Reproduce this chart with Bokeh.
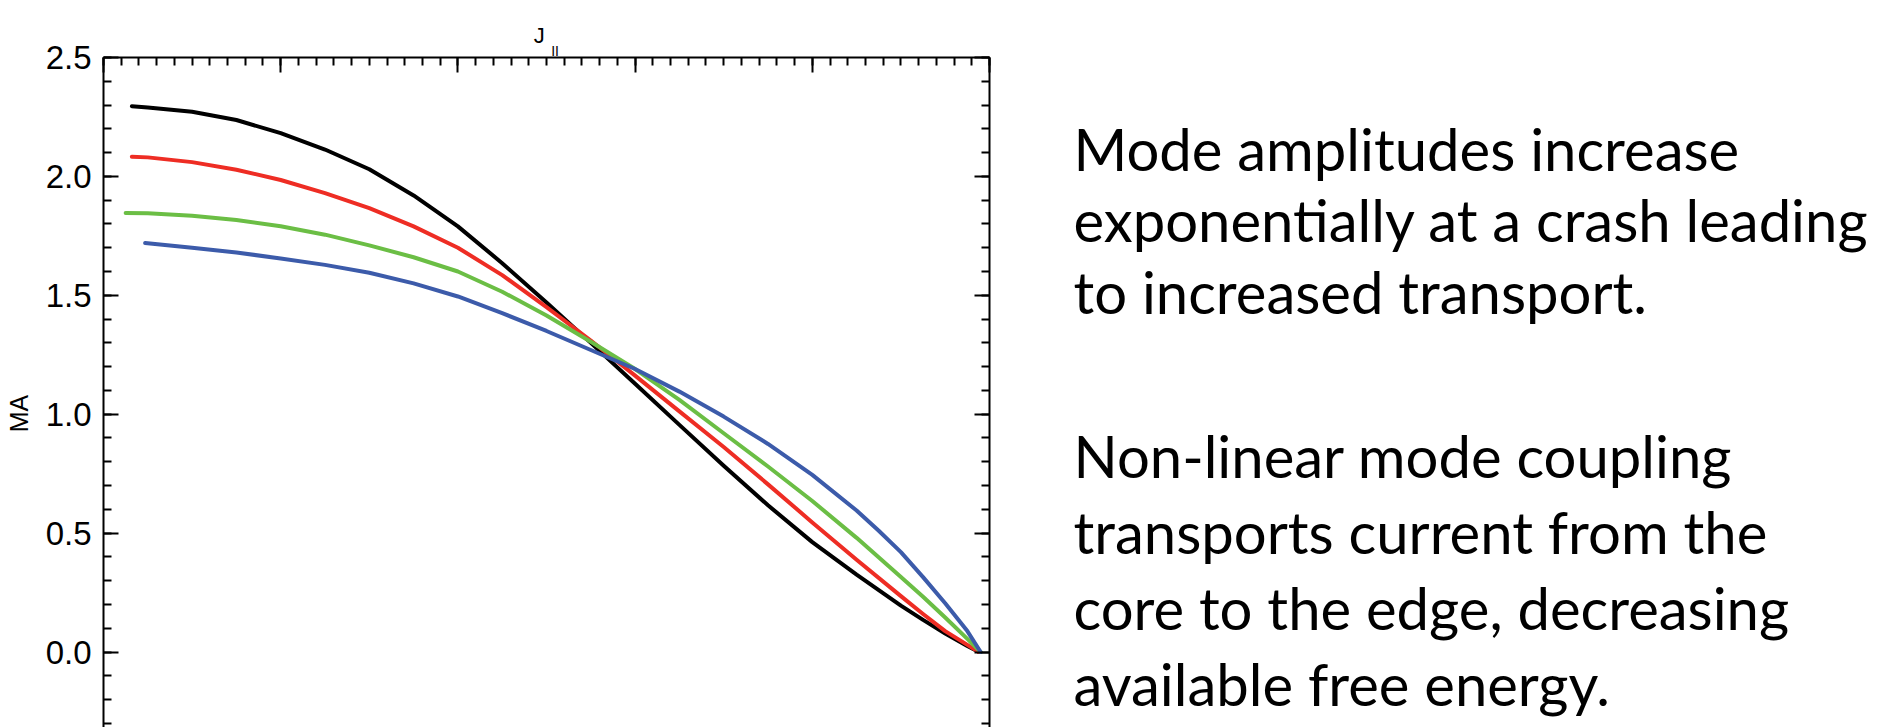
import numpy as np
from bokeh.plotting import figure
from bokeh.layouts import row
from bokeh.models import Range1d, LinearAxis, FixedTicker, NumeralTickFormatter, Title
from bokeh.embed import file_html
from bokeh.resources import INLINE
from bokeh.core.properties import value

# ---------------- data ----------------
x_black = [0.032, 0.05, 0.10, 0.15, 0.20, 0.25, 0.30, 0.35, 0.40, 0.45, 0.50, 0.55, 0.60,
           0.65, 0.70, 0.75, 0.80, 0.85, 0.90, 0.925, 0.95, 0.975, 0.988]
y_black = [2.295, 2.29, 2.272, 2.237, 2.182, 2.113, 2.03, 1.92, 1.79, 1.635, 1.47, 1.30, 1.128,
           0.955, 0.783, 0.617, 0.462, 0.325, 0.195, 0.135, 0.078, 0.025, 0.0]

x_red = [0.032, 0.05, 0.10, 0.15, 0.20, 0.25, 0.30, 0.35, 0.40, 0.45, 0.50, 0.55, 0.60,
         0.65, 0.70, 0.75, 0.80, 0.85, 0.90, 0.925, 0.95, 0.975, 0.988]
y_red = [2.083, 2.08, 2.06, 2.028, 1.985, 1.93, 1.867, 1.79, 1.70, 1.585, 1.45, 1.31, 1.162,
         1.012, 0.862, 0.705, 0.545, 0.388, 0.235, 0.16, 0.088, 0.03, 0.0]

x_green = [0.025, 0.05, 0.10, 0.15, 0.20, 0.25, 0.30, 0.35, 0.40, 0.45, 0.50, 0.55, 0.60,
           0.65, 0.70, 0.75, 0.80, 0.85, 0.90, 0.925, 0.95, 0.975, 0.99]
y_green = [1.846, 1.845, 1.835, 1.817, 1.79, 1.755, 1.71, 1.66, 1.60, 1.515, 1.415, 1.305, 1.19,
           1.06, 0.92, 0.78, 0.635, 0.48, 0.315, 0.232, 0.145, 0.055, 0.0]

x_blue = [0.047, 0.10, 0.15, 0.20, 0.25, 0.30, 0.35, 0.40, 0.45, 0.50, 0.55, 0.60,
          0.65, 0.70, 0.75, 0.80, 0.85, 0.875, 0.90, 0.925, 0.95, 0.975, 0.99]
y_blue = [1.720, 1.70, 1.68, 1.655, 1.628, 1.595, 1.55, 1.495, 1.425, 1.35, 1.27, 1.19,
          1.095, 0.99, 0.875, 0.745, 0.595, 0.51, 0.42, 0.315, 0.205, 0.088, 0.0]

y_major_ticks = [-0.5, 0.0, 0.5, 1.0, 1.5, 2.0, 2.5]
y_minor_ticks = [round(-0.5 + 0.1 * i, 2) for i in range(31)]
x_major_ticks = [0.0, 0.2, 0.4, 0.6, 0.8, 1.0]
x_minor_ticks = [round(0.02 * i, 2) for i in range(51)]

title_main = "J"
title_sub = "II"
y_label = "MA"
notes = [
    "Mode amplitudes increase",
    "exponentially at a crash leading",
    "to increased transport.",
    "Non-linear mode coupling",
    "transports current  from the",
    "core to the edge,  decreasing",
    "available free energy.",
]

# ---------------- layout (page pixels) ----------------
PAGE_W, PAGE_H = 1877, 727
MA_W = 40             # strip holding the y-axis label
MAIN_RIGHT = 1000     # right edge of the chart figure
FRAME_LEFT = 103      # page x of the plot frame
FRAME_TOP = 57
FRAME_W = 886
X0, X1 = 0.0, 1.0
Y_TOP = 2.5
PX_PER_Y = 237.8

main_w = MAIN_RIGHT - MA_W
b_left = FRAME_LEFT - MA_W
b_right = main_w - b_left - FRAME_W
frame_h = PAGE_H - FRAME_TOP
Y_BOT = Y_TOP - frame_h / PX_PER_Y


def blank(width, height, x0, x1, y0, y1):
    f = figure(width=width, height=height, x_range=Range1d(x0, x1), y_range=Range1d(y0, y1),
               title=None, x_axis_location=None, y_axis_location=None, min_border=0,
               output_backend="svg", toolbar_location=None)
    f.xgrid.visible = False
    f.ygrid.visible = False
    f.outline_line_color = None
    f.background_fill_color = "white"
    f.border_fill_color = "white"
    return f


# ---- main chart ----
p = figure(
    width=main_w, height=PAGE_H, title=None,
    x_range=Range1d(X0, X1), y_range=Range1d(Y_BOT, Y_TOP),
    x_axis_location=None, y_axis_location=None,
    min_border_left=b_left, min_border_top=FRAME_TOP,
    min_border_right=b_right, min_border_bottom=0,
    output_backend="svg", toolbar_location=None,
)
p.xgrid.visible = False
p.ygrid.visible = False
p.outline_line_color = None
p.background_fill_color = "white"
p.border_fill_color = "white"


def style_axis(ax, labels, standoff=0):
    ax.axis_line_width = 2
    ax.axis_line_color = "black"
    ax.major_tick_line_width = 2
    ax.minor_tick_line_width = 2
    ax.major_tick_line_color = "black"
    ax.minor_tick_line_color = "black"
    ax.major_tick_in = 15
    ax.major_tick_out = 0
    ax.minor_tick_in = 8
    ax.minor_tick_out = 0
    if labels:
        ax.major_label_text_font = "Liberation Sans"
        ax.major_label_text_font_size = "33px"
        ax.major_label_text_color = "black"
        ax.major_label_standoff = 12
    else:
        ax.major_label_text_font_size = "0px"
        ax.major_label_standoff = standoff


left = LinearAxis(ticker=FixedTicker(ticks=y_major_ticks, minor_ticks=y_minor_ticks),
                  formatter=NumeralTickFormatter(format="0.0"))
style_axis(left, True)
p.add_layout(left, "left")

right = LinearAxis(ticker=FixedTicker(ticks=y_major_ticks, minor_ticks=y_minor_ticks))
style_axis(right, False)
p.add_layout(right, "right")

top = LinearAxis(ticker=FixedTicker(ticks=x_major_ticks, minor_ticks=x_minor_ticks))
style_axis(top, False, standoff=3)
p.add_layout(top, "above")

# title "J" with subscript "II" (left-aligned titles, shifted by offset from the frame's left edge)
sub = Title(text=title_sub, align="left", offset=550.7 - FRAME_LEFT, standoff=-3.6,
            text_font="Liberation Sans", text_font_size="14px", text_font_style="normal",
            text_color="black")
p.add_layout(sub, "above")
main_title = Title(text=title_main, align="left", offset=533.3 - FRAME_LEFT, standoff=-8.6,
                   text_font="Liberation Sans", text_font_size="22px", text_font_style="normal",
                   text_color="black")
p.add_layout(main_title, "above")

for xs, ys, col in [(x_black, y_black, "#000000"),
                    (x_red, y_red, "#EE2D24"),
                    (x_green, y_green, "#6BBE45"),
                    (x_blue, y_blue, "#3C5BAA")]:
    p.line(xs, ys, line_width=4, line_color=col, line_join="round", line_cap="round")

# ---- side strips: their frames line up with the chart frame (page y from FRAME_TOP to PAGE_H)
m = blank(MA_W, PAGE_H, 0, MA_W, PAGE_H, FRAME_TOP)
m.text(x=[18], y=[413], text=[y_label], angle=np.pi / 2, text_font=value("Liberation Sans"),
       text_font_size=value("25px"), text_align="center", text_baseline="middle",
       text_color="black")

n = blank(PAGE_W - MAIN_RIGHT, PAGE_H, MAIN_RIGHT, PAGE_W, PAGE_H, FRAME_TOP)
baselines = [148, 219, 291, 455, 531, 607, 683]
n.text(x=[1073] * len(notes), y=baselines, text=notes, text_font=value("Lato"),
       text_font_size=value("58px"), text_align="left", text_baseline="alphabetic",
       text_color="black")

layout = row(m, p, n, spacing=0)

open("out.html", "w").write(file_html(layout, INLINE))
